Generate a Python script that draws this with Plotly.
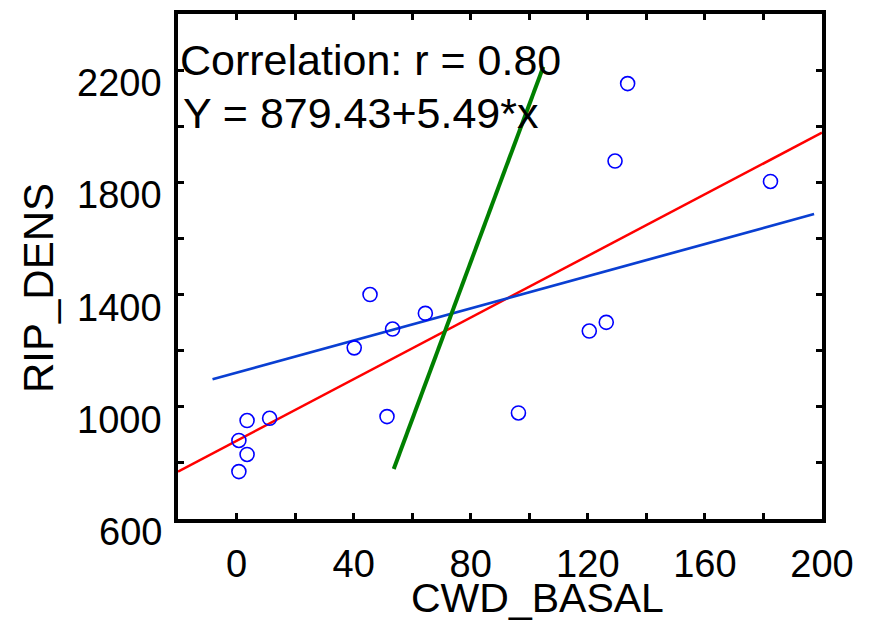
import plotly.graph_objects as go

# Data points
cwd_basal = [45.6, 64.5, 53.3, 40.2, 3.6, 11.3, 0.8, 3.6, 0.8, 51.4, 96.3,
             133.6, 129.3, 182.4, 120.5, 126.3]
rip_dens = [1400, 1333, 1277, 1210, 951, 959, 880, 830, 769, 965, 978,
            2152, 1876, 1803, 1270, 1301]

# Fitted lines (end points)
red_x = [-20, 200]
red_y = [769, 1977]
blue_x = [-8.2, 197.3]
blue_y = [1098, 1687]
green_x = [53.7, 104.8]
green_y = [778, 2212]

x_tickvals = [0, 20, 40, 60, 80, 100, 120, 140, 160, 180, 200]
x_ticktext = ["0", "", "40", "", "80", "", "120", "", "160", "", "200"]
y_tickvals = [600, 800, 1000, 1200, 1400, 1600, 1800, 2000, 2200]
y_label_vals = [600, 1000, 1400, 1800, 2200]
y_label_text = ["600", "1000", "1400", "1800", "2200"]

FONT = "Liberation Sans, Arial, sans-serif"
TICK_FS = 38
NOTE_FS = 43

fig = go.Figure()
fig.add_trace(go.Scatter(x=red_x, y=red_y, mode="lines",
                         line=dict(color="#ff0000", width=2.5), showlegend=False))
fig.add_trace(go.Scatter(x=blue_x, y=blue_y, mode="lines",
                         line=dict(color="#0a3fd2", width=2.7), showlegend=False))
fig.add_trace(go.Scatter(x=green_x, y=green_y, mode="lines",
                         line=dict(color="#008000", width=4), showlegend=False))
fig.add_trace(go.Scatter(x=cwd_basal, y=rip_dens, mode="markers",
                         marker=dict(symbol="circle-open", size=14, color="#0000ff",
                                     line=dict(width=1.6, color="#0000ff")),
                         showlegend=False))

# y tick labels (drawn slightly below their ticks, as in the original)
for v, t in zip(y_label_vals, y_label_text):
    fig.add_annotation(text=t, xref="paper", yref="y", x=0, y=v,
                       xanchor="right", yanchor="middle", xshift=-14, yshift=-13,
                       showarrow=False, font=dict(family=FONT, size=TICK_FS, color="black"))

fig.add_annotation(text="Correlation: r = 0.80", xref="x domain", yref="y domain",
                   x=0.0, y=0.909, xanchor="left", yanchor="middle", showarrow=False,
                   font=dict(family=FONT, size=NOTE_FS, color="black"))
fig.add_annotation(text="Y = 879.43+5.49*x", xref="x domain", yref="y domain",
                   x=0.004, y=0.804, xanchor="left", yanchor="middle", showarrow=False,
                   font=dict(family=FONT, size=NOTE_FS, color="black"))

# axis titles
fig.add_annotation(text="CWD_BASAL", xref="paper", yref="paper", x=0.559, y=-0.156,
                   xanchor="center", yanchor="middle", showarrow=False,
                   font=dict(family=FONT, size=41, color="black"))
fig.add_annotation(text="RIP_DENS", xref="paper", yref="paper", x=-0.2174, y=0.4574,
                   xanchor="center", yanchor="middle", textangle=-90, showarrow=False,
                   font=dict(family=FONT, size=42, color="black"))

fig.update_layout(
    width=863, height=619,
    margin=dict(l=170, r=49, t=6, b=108),
    paper_bgcolor="white", plot_bgcolor="white",
    font=dict(family=FONT, size=TICK_FS, color="black"),
    xaxis=dict(range=[-20, 200], tickvals=x_tickvals, ticktext=x_ticktext,
               ticks="inside", ticklen=6, tickwidth=3, tickcolor="black",
               showline=True, linewidth=4, linecolor="black", mirror="ticks",
               showgrid=False, zeroline=False, ticklabelstandoff=8,
               automargin=False),
    yaxis=dict(range=[600, 2400], tickvals=y_tickvals, showticklabels=False,
               ticks="inside", ticklen=6, tickwidth=3, tickcolor="black",
               showline=True, linewidth=4, linecolor="black", mirror="ticks",
               showgrid=False, zeroline=False, automargin=False),
)

fig.write_html("out.html")
